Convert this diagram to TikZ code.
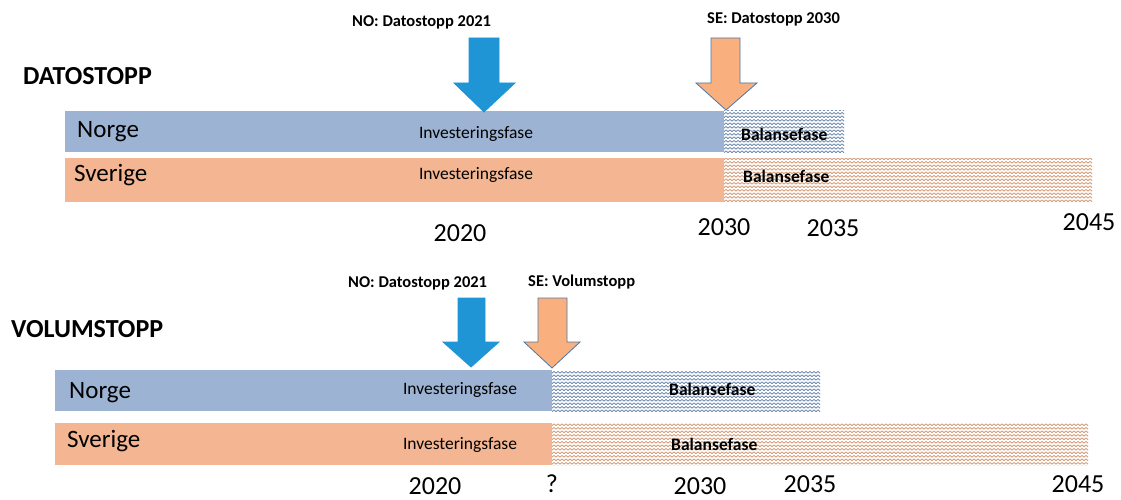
\documentclass[tikz,border=0pt]{standalone}
\usepackage{fontspec}
\setmainfont{Carlito}
\usetikzlibrary{patterns}

\definecolor{norbar}{HTML}{9DB3D4}
\definecolor{swebar}{HTML}{F4B692}
\definecolor{norwave}{HTML}{6F89AE}
\definecolor{swewave}{HTML}{D49C78}
\definecolor{arrowblue}{HTML}{1F95D6}
\definecolor{arroworange}{HTML}{F9AF7E}
\definecolor{arrowedge}{HTML}{4A78A8}

% zigzag fill of the balance phase
\pgfdeclarepatternformonly{wavy}{\pgfqpoint{-1pt}{-1pt}}{\pgfqpoint{5pt}{4.5pt}}{\pgfqpoint{4pt}{3.5pt}}{
  \pgfsetlinewidth{0.8pt}
  \pgfpathmoveto{\pgfqpoint{0pt}{0.8pt}}
  \pgfpathlineto{\pgfqpoint{2pt}{2.6pt}}
  \pgfpathlineto{\pgfqpoint{4pt}{0.8pt}}
  \pgfusepath{stroke}
}

\tikzset{
  country/.style={anchor=base west, inner sep=0, font=\fontsize{25}{30}\selectfont},
  phase/.style={anchor=base, inner sep=0, font=\fontsize{17.5}{20}\selectfont},
  balance/.style={anchor=base west, inner sep=0, font=\bfseries\fontsize{17.5}{20}\selectfont},
  year/.style={anchor=base, inner sep=0, font=\fontsize{26}{30}\selectfont},
  stoplabel/.style={anchor=base west, inner sep=0, font=\bfseries\fontsize{16.5}{20}\selectfont},
  heading/.style={anchor=base west, inner sep=0, font=\bfseries\fontsize{26}{30}\selectfont},
  blockarrow/.style={line width=0.8pt, line join=miter},
  wave/.style={pattern=wavy, pattern color=#1},
}

\begin{document}
\begin{tikzpicture}[x=1pt, y=-1pt]
\useasboundingbox (0,0) rectangle (1121,500);

%% DATOSTOPP
\node[heading](head1) at (23,85) {DATOSTOPP};

\fill[norbar] (65,111) rectangle (724,152);
\fill[swebar] (65,158) rectangle (724,202);
\fill[white] (724,111) rectangle (844,152);
\fill[wave=norwave] (724,111) rectangle (844,152);
\fill[white] (724,158) rectangle (1092,202);
\fill[wave=swewave] (724,158) rectangle (1092,202);

\node[country](no1) at (77,137) {Norge};
\node[country](se1) at (74,181) {Sverige};
\node[phase](inv1no) at (476,139) {Investeringsfase};
\node[phase](inv1se) at (476,179) {Investeringsfase};
\node[balance](bal1no) at (741,140) {Balansefase};
\node[balance](bal1se) at (743,182) {Balansefase};

\node[stoplabel](lab1no) at (352,27) {NO: Datostopp 2021};
\node[stoplabel](lab1se) at (707,24) {SE: Datostopp 2030};

\draw[blockarrow, fill=arrowblue, draw=arrowblue] (469,38) -- (499,38) -- (499,83) -- (515,83)
  -- (484,112) -- (454,83) -- (469,83) -- cycle;
\draw[blockarrow, fill=arroworange, draw=arrowedge] (711,38) -- (740,38) -- (740,83) -- (757,83)
  -- (726,110) -- (696,83) -- (711,83) -- cycle;

\node[year](y1a) at (460,241) {2020};
\node[year](y1b) at (724,235) {2030};
\node[year](y1c) at (833,236) {2035};
\node[year](y1d) at (1089,230) {2045};

%% VOLUMSTOPP
\node[heading](head2) at (11,337) {VOLUMSTOPP};

\fill[norbar] (55,370) rectangle (552,411);
\fill[swebar] (55,423) rectangle (552,465);
\fill[white] (552,370) rectangle (820,411);
\fill[wave=norwave] (552,370) rectangle (820,411);
\fill[white] (552,423) rectangle (1088,465);
\fill[wave=swewave] (552,423) rectangle (1088,465);

\node[country](no2) at (69,398) {Norge};
\node[country](se2) at (67,447) {Sverige};
\node[phase](inv2no) at (460,394) {Investeringsfase};
\node[phase](inv2se) at (460,449) {Investeringsfase};
\node[balance](bal2no) at (669,395) {Balansefase};
\node[balance](bal2se) at (671,450) {Balansefase};

\node[stoplabel](lab2no) at (348,287) {NO: Datostopp 2021};
\node[stoplabel](lab2se) at (528,286) {SE: Volumstopp};

\draw[blockarrow, fill=arrowblue, draw=arrowblue] (458,298) -- (485,298) -- (485,342) -- (499,342)
  -- (471,367) -- (443,342) -- (458,342) -- cycle;
\draw[blockarrow, fill=arroworange, draw=arrowedge] (538,298) -- (567,298) -- (567,342) -- (580,342)
  -- (552,368) -- (524,342) -- (538,342) -- cycle;

\node[year](y2a) at (435,494) {2020};
\node[year](y2q) at (552,492) {?};
\node[year](y2b) at (700,494) {2030};
\node[year](y2c) at (810,492) {2035};
\node[year](y2d) at (1078,492) {2045};

\end{tikzpicture}
\end{document}
